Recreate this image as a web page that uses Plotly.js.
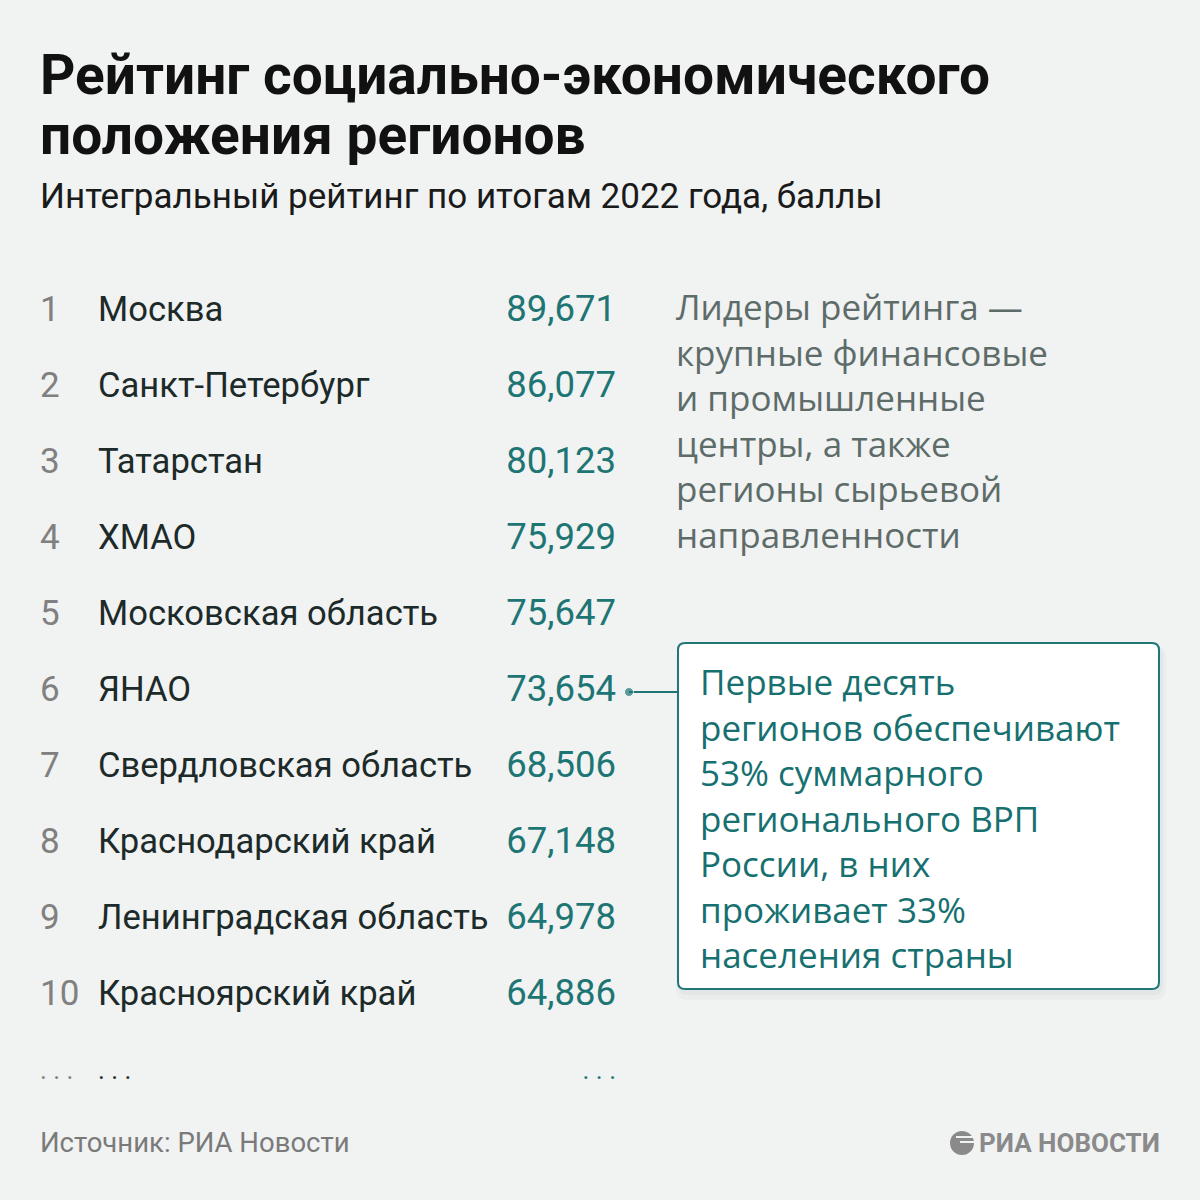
<!DOCTYPE html>
<html>
<head>
<meta charset="utf-8">
<script src="https://cdn.plot.ly/plotly-3.0.1.min.js"></script>
<style>
  body { margin: 0; background: #f1f2f2; }
  #chart { width: 1200px; height: 1200px; }
</style>
</head>
<body>
<div id="chart"></div>
<script>
// rating data
var ranks = [1, 2, 3, 4, 5, 6, 7, 8, 9, 10];
var regions = ['Москва', 'Санкт-Петербург', 'Татарстан', 'ХМАО', 'Московская область',
  'ЯНАО', 'Свердловская область', 'Краснодарский край', 'Ленинградская область', 'Красноярский край'];
var scores = [89.671, 86.077, 80.123, 75.929, 75.647, 73.654, 68.506, 67.148, 64.978, 64.886];
var highlightRank = 6;
var moreRank = 11;

var noteLines = ['Лидеры рейтинга —', 'крупные финансовые', 'и промышленные',
  'центры, а также', 'регионы сырьевой', 'направленности'];
var calloutLines = ['Первые десять', 'регионов обеспечивают', '53% суммарного',
  'регионального ВРП', 'России, в них', 'проживает 33%', 'населения страны'];

var TEAL = '#1d7574';
var DARK = '#1c2a29';
var GRAY = '#808080';

var scoreText = scores.map(function (v) { return v.toFixed(3).replace('.', ','); });

// column x positions (pixels, x axis runs 0..1200)
var colRank = 40, colName = 98, colScore = 616;

var traces = [
  { x: ranks.map(function () { return colRank; }), y: ranks, text: ranks.map(String),
    mode: 'text', textposition: 'middle right', hoverinfo: 'skip',
    textfont: { family: 'Roboto', size: 35, color: GRAY } },
  { x: ranks.map(function () { return colName; }), y: ranks, text: regions,
    mode: 'text', textposition: 'middle right', hoverinfo: 'skip',
    textfont: { family: 'Roboto', size: 34.6, color: DARK } },
  { x: ranks.map(function () { return colScore; }), y: ranks, text: scoreText,
    mode: 'text', textposition: 'middle left', hoverinfo: 'skip',
    textfont: { family: 'Roboto', size: 36.5, color: TEAL } },
  // "..." row
  { x: [colRank, colName, colScore], y: [moreRank, moreRank, moreRank], text: ['. . .', '. . .', '. . .'],
    mode: 'text', textposition: ['middle right', 'middle right', 'middle left'], hoverinfo: 'skip',
    textfont: { family: 'Roboto', size: 26, color: [GRAY, DARK, TEAL] } },
  // connector to the callout
  { x: [629, 678], y: [highlightRank, highlightRank], mode: 'lines+markers', hoverinfo: 'skip',
    line: { color: TEAL, width: 2 }, marker: { color: TEAL, size: [9, 0] } }
];

function py(p) { return 1 - p / 1200; }
function px(p) { return p / 1200; }

var annotations = [
  { text: '<b>Рейтинг социально-экономического</b>', x: px(38), y: py(75), xanchor: 'left', yanchor: 'middle',
    font: { family: 'Roboto', size: 55, color: '#111111' } },
  { text: '<b>положения регионов</b>', x: px(38), y: py(135), xanchor: 'left', yanchor: 'middle',
    font: { family: 'Roboto', size: 55, color: '#111111' } },
  { text: 'Интегральный рейтинг по итогам 2022 года, баллы', x: px(38), y: py(196), xanchor: 'left', yanchor: 'middle',
    font: { family: 'Roboto', size: 35, color: '#1a1a1a' } },
  { text: noteLines.join('<br>'), x: px(674), y: py(420), xanchor: 'left', yanchor: 'middle', align: 'left',
    font: { family: 'Open Sans', size: 35, color: '#5d6c69' } },
  { text: calloutLines.join('<br>'), x: px(698), y: py(818), xanchor: 'left', yanchor: 'middle', align: 'left',
    font: { family: 'Open Sans', size: 35, color: '#177070' } },
  { text: 'Источник: РИА Новости', x: px(38), y: py(1142), xanchor: 'left', yanchor: 'middle',
    font: { family: 'Roboto', size: 27.5, color: '#7a7a7a' } },
  { text: '<b>РИА НОВОСТИ</b>', x: px(1162), y: py(1143), xanchor: 'right', yanchor: 'middle',
    font: { family: 'Roboto', size: 26, color: '#8a8a8a' } }
];
annotations.forEach(function (a) { a.xref = 'paper'; a.yref = 'paper'; a.showarrow = false; });

// rounded box path in paper coords from pixel corners
function boxPath(x0, y0, x1, y1, r) {
  function P(x, y) { return (x / 1200).toFixed(5) + ',' + (1 - y / 1200).toFixed(5); }
  return 'M' + P(x0 + r, y0) + ' L' + P(x1 - r, y0) + ' Q' + P(x1, y0) + ' ' + P(x1, y0 + r) +
    ' L' + P(x1, y1 - r) + ' Q' + P(x1, y1) + ' ' + P(x1 - r, y1) +
    ' L' + P(x0 + r, y1) + ' Q' + P(x0, y1) + ' ' + P(x0, y1 - r) +
    ' L' + P(x0, y0 + r) + ' Q' + P(x0, y0) + ' ' + P(x0 + r, y0) + ' Z';
}

var shapes = [
  { type: 'path', xref: 'paper', yref: 'paper', path: boxPath(676, 646, 1166, 1000, 12), layer: 'below',
    fillcolor: 'rgba(0,50,50,0.025)', line: { width: 0 } },
  { type: 'path', xref: 'paper', yref: 'paper', path: boxPath(678, 645, 1163, 995, 10), layer: 'below',
    fillcolor: 'rgba(0,50,50,0.035)', line: { width: 0 } },
  { type: 'path', xref: 'paper', yref: 'paper', path: boxPath(678, 643, 1159, 989, 7), layer: 'below',
    fillcolor: '#ffffff', line: { color: '#1f7777', width: 2 } },
  // logo mark
  { type: 'circle', xref: 'paper', yref: 'paper', x0: px(950), x1: px(974), y0: py(1131), y1: py(1155),
    fillcolor: '#8a8a8a', line: { width: 0 } },
  { type: 'line', xref: 'paper', yref: 'paper', x0: px(956), x1: px(976), y0: py(1137), y1: py(1137),
    line: { color: '#f1f2f2', width: 2 } },
  { type: 'line', xref: 'paper', yref: 'paper', x0: px(960), x1: px(976), y0: py(1142), y1: py(1142),
    line: { color: '#f1f2f2', width: 2 } }
];

// y axis: rank 1 sits at 312 px, rows 76 px apart
var rowStep = 76, firstRow = 312;
var yTop = 1 - firstRow / rowStep;
var yBottom = yTop + 1200 / rowStep;

var layout = {
  width: 1200, height: 1200,
  margin: { l: 0, r: 0, t: 0, b: 0 },
  paper_bgcolor: '#f1f2f2', plot_bgcolor: '#f1f2f2',
  showlegend: false,
  xaxis: { range: [0, 1200], visible: false, fixedrange: true },
  yaxis: { range: [yBottom, yTop], visible: false, fixedrange: true },
  annotations: annotations,
  shapes: shapes
};

Plotly.newPlot('chart', traces, layout, { staticPlot: true });
</script>
</body>
</html>
